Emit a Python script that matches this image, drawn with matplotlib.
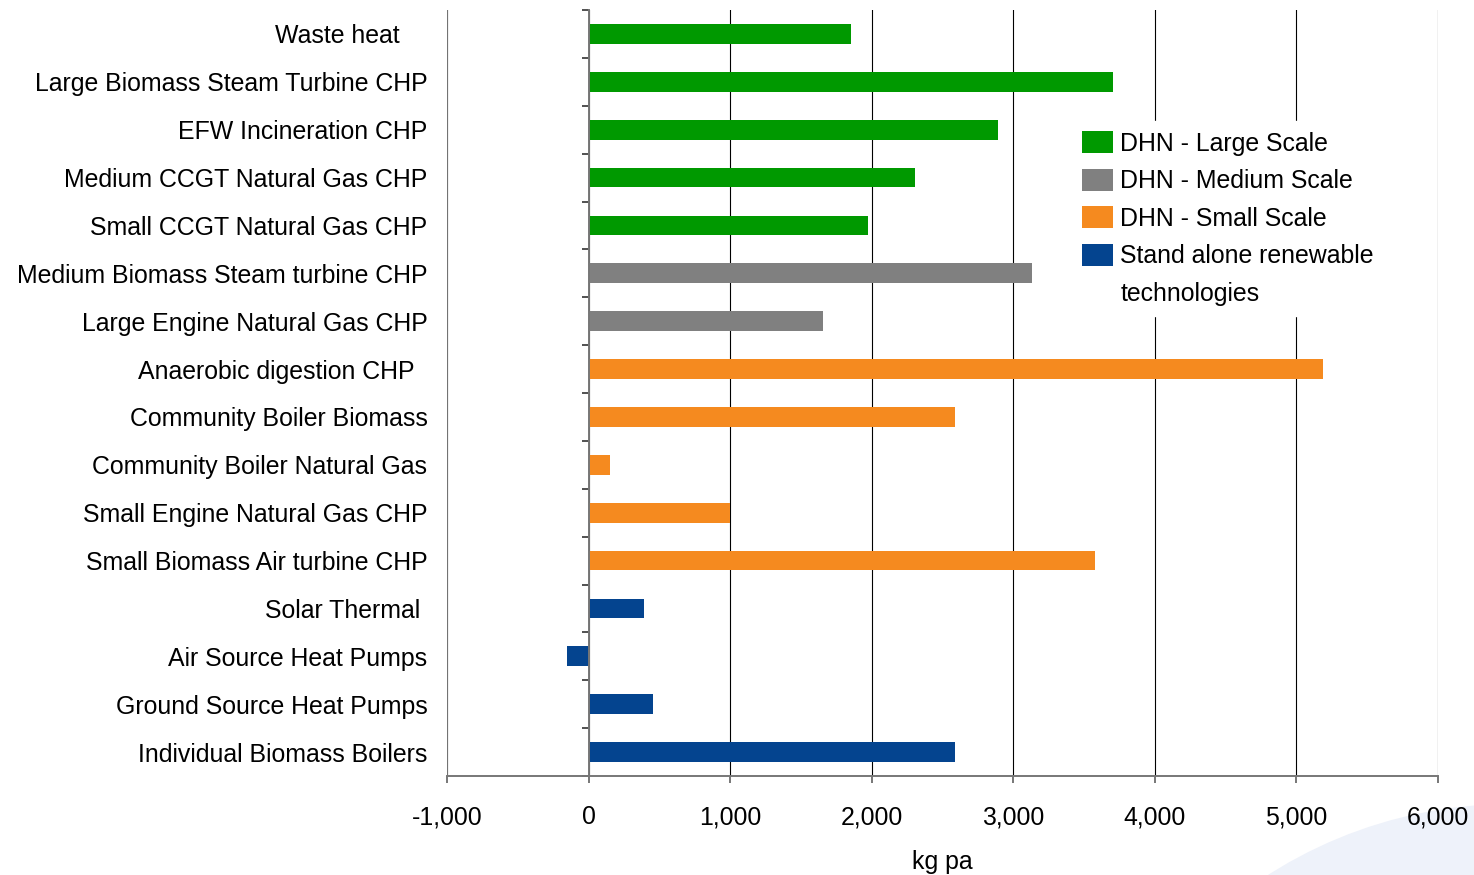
import matplotlib
matplotlib.use("Agg")
import matplotlib.pyplot as plt
import numpy as np
from matplotlib.patches import Patch, Ellipse
from matplotlib.ticker import FuncFormatter

plt.rcParams['font.family'] = ['Liberation Sans', 'DejaVu Sans']

# categories top to bottom (trailing spaces kept as in the source)
technologies = [
    "Waste heat    ",
    "Large Biomass Steam Turbine CHP",
    "EFW Incineration CHP",
    "Medium CCGT Natural Gas CHP",
    "Small CCGT Natural Gas CHP",
    "Medium Biomass Steam turbine CHP",
    "Large Engine Natural Gas CHP",
    "Anaerobic digestion CHP  ",
    "Community Boiler Biomass",
    "Community Boiler Natural Gas",
    "Small Engine Natural Gas CHP",
    "Small Biomass Air turbine CHP",
    "Solar Thermal ",
    "Air Source Heat Pumps",
    "Ground Source Heat Pumps",
    "Individual Biomass Boilers",
]
kg_pa = [1856, 3705, 2893, 2308, 1976, 3133, 1658, 5187, 2590, 148,
         1002, 3578, 395, -155, 452, 2590]
groups = ["large", "large", "large", "large", "large", "medium", "medium",
          "small", "small", "small", "small", "small",
          "alone", "alone", "alone", "alone"]

group_labels = ["DHN - Large Scale", "DHN - Medium Scale", "DHN - Small Scale",
                "Stand alone renewable"]
group_keys = ["large", "medium", "small", "alone"]
group_colors = {"large": "#009900", "medium": "#808080",
                "small": "#F58A1F", "alone": "#04448F"}

FS = 17.9

fig = plt.figure(figsize=(14.74, 8.75), dpi=100)
ax = fig.add_axes([447/1474, 1-776/875, (1438-447)/1474, (776-10)/875])
ax.set_facecolor('none')

# decorative swoosh in bottom-right corner
fig.add_artist(Ellipse((1510.5/1474, 1-1254/875), 900/1474, 900/875,
                       transform=fig.transFigure, facecolor='#eef2fa',
                       edgecolor='none', zorder=-1))

y = np.arange(len(technologies))
ax.barh(y, kg_pa, height=0.41, color=[group_colors[g] for g in groups], zorder=3)

ax.set_xlim(-1000, 6000)
ax.set_ylim(len(technologies)-0.5, -0.5)
ax.set_xticks(np.arange(-1000, 6001, 1000))
ax.xaxis.set_major_formatter(FuncFormatter(lambda v, p: f"{int(v):,}"))

ax.grid(axis='x', color='black', linewidth=0.8, zorder=1)
ax.axvline(-1000, color='#777777', linewidth=1.4, zorder=2)

for s in ['top', 'right']:
    ax.spines[s].set_visible(False)
ax.spines['left'].set_position(('data', 0))
ax.spines['left'].set_color('#777777')
ax.spines['left'].set_linewidth(1.4)
ax.spines['left'].set_zorder(4)
ax.spines['bottom'].set_color('#777777')
ax.spines['bottom'].set_linewidth(1.4)

ax.set_yticks(y)
ax.set_yticklabels(technologies, fontsize=FS)
ax.set_yticks(np.arange(-0.5, len(technologies)), minor=True)
ax.tick_params(axis='y', which='major', length=0, pad=116)
ax.tick_params(axis='y', which='minor', length=5, color='#333333', width=1.2)
ax.tick_params(axis='x', which='major', length=5, color='#777777', width=1.4,
               labelsize=FS, pad=16)

ax.set_xlabel("kg pa", fontsize=FS, labelpad=15)

handles = [Patch(facecolor=group_colors[k], edgecolor='none') for k in group_keys]
labels = list(group_labels)
handles.append(Patch(facecolor='none', edgecolor='none'))
labels.append("technologies")
leg = ax.legend(handles, labels, loc='upper left',
                bbox_to_anchor=(1072/1474, 1-121/875),
                bbox_transform=fig.transFigure,
                fontsize=FS, frameon=True, fancybox=False,
                handlelength=1.25, handleheight=1.0, handletextpad=0.3,
                labelspacing=0.52, borderpad=0.4, borderaxespad=0)
leg.get_frame().set_facecolor('white')
leg.get_frame().set_edgecolor('white')
leg.get_frame().set_alpha(1)
leg.set_zorder(10)

fig.savefig("out.png", dpi=100)
